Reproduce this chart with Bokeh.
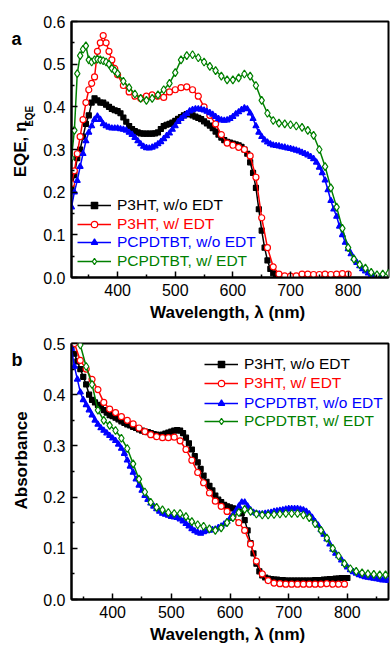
import math
from bokeh.plotting import figure
from bokeh.layouts import column, row
from bokeh.models import Legend, LegendItem, Label, FixedTicker, PrintfTickFormatter, Range1d
from bokeh.embed import file_html
from bokeh.resources import INLINE

FONT = "Liberation Sans"

# ---------------- data ----------------
names = ["P3HT, w/o EDT", "P3HT, w/ EDT", "PCPDTBT, w/o EDT", "PCPDTBT, w/ EDT"]
colors = ["#000000", "#ff0000", "#0000ff", "#008000"]
markers = ["square", "circle", "triangle", "diamond"]
filled = [True, False, True, False]
msizes = [5, 6, 6, 8]

x_ticks = [400, 500, 600, 700, 800]
x_minor = [350, 450, 550, 650, 750, 850]
eqe_ticks = [0.0, 0.1, 0.2, 0.3, 0.4, 0.5, 0.6]
eqe_minor = [0.05, 0.15, 0.25, 0.35, 0.45, 0.55]
abs_ticks = [0.0, 0.1, 0.2, 0.3, 0.4, 0.5]
abs_minor = [0.05, 0.15, 0.25, 0.35, 0.45]

# Panel a: EQE
eqe_p3ht_wo_x = list(range(320, 685, 5))
eqe_p3ht_wo = [
    0.21, 0.24, 0.28, 0.30, 0.33, 0.36, 0.38, 0.41, 0.42, 0.415,
    0.41, 0.41, 0.405, 0.40, 0.395, 0.392, 0.39, 0.385, 0.375, 0.365,
    0.355, 0.348, 0.343, 0.34, 0.338, 0.337, 0.337, 0.337, 0.337, 0.338,
    0.34, 0.348, 0.355, 0.358, 0.36, 0.363, 0.367, 0.372, 0.376, 0.38,
    0.383, 0.383, 0.38, 0.377, 0.374, 0.371, 0.366, 0.361, 0.356, 0.35,
    0.342, 0.335, 0.328, 0.322, 0.318, 0.316, 0.314, 0.312, 0.31, 0.306,
    0.30, 0.29, 0.27, 0.245, 0.21, 0.16, 0.11, 0.07, 0.04, 0.02,
    0.01, 0.004, 0.0]

eqe_p3ht_w_x = list(range(320, 400, 5)) + list(range(400, 810, 10))
eqe_p3ht_w = [
    0.22, 0.25, 0.29, 0.33, 0.37, 0.41, 0.44, 0.455, 0.47, 0.53,
    0.55, 0.567, 0.55, 0.53, 0.51, 0.49,
    0.475, 0.45, 0.435, 0.425, 0.42, 0.425, 0.428, 0.425, 0.422, 0.435,
    0.44, 0.445, 0.447, 0.44, 0.425, 0.40, 0.38, 0.36, 0.335, 0.315,
    0.31, 0.305, 0.30, 0.285, 0.235, 0.14, 0.07, 0.025, 0.008, 0.004,
    0.003, 0.004, 0.008, 0.008, 0.007, 0.007, 0.008, 0.007, 0.008, 0.009,
    0.008]

eqe_pcp_wo_x = list(range(320, 865, 5))
eqe_pcp_wo = [
    0.165, 0.20, 0.227, 0.26, 0.29, 0.32, 0.34, 0.355, 0.37, 0.378,
    0.37, 0.36, 0.355, 0.352, 0.35, 0.35, 0.35, 0.348, 0.347, 0.345,
    0.34, 0.335, 0.328, 0.32, 0.313, 0.307, 0.304, 0.303, 0.305, 0.308,
    0.313, 0.318, 0.325, 0.332, 0.338, 0.347, 0.355, 0.365, 0.372, 0.378,
    0.384, 0.39, 0.393, 0.395, 0.395, 0.394, 0.392, 0.389, 0.386, 0.382,
    0.377, 0.372, 0.369, 0.368, 0.369, 0.372, 0.377, 0.383, 0.388, 0.393,
    0.397, 0.395, 0.385, 0.372, 0.355, 0.34, 0.33, 0.322, 0.317, 0.313,
    0.31, 0.309, 0.308, 0.306, 0.305, 0.303, 0.302, 0.30, 0.298, 0.296,
    0.293, 0.29, 0.287, 0.283, 0.278, 0.27, 0.258, 0.245, 0.228, 0.205,
    0.18, 0.16, 0.143, 0.12, 0.10, 0.082, 0.067, 0.055, 0.045, 0.035,
    0.027, 0.02, 0.015, 0.01, 0.006, 0.003, 0.001, 0.0, 0.0]

eqe_pcp_w_x = list(range(320, 400, 5)) + list(range(400, 880, 10))
eqe_pcp_w = [
    0.28, 0.345, 0.478, 0.52, 0.535, 0.543, 0.51, 0.505, 0.51, 0.512,
    0.51, 0.508, 0.505, 0.50, 0.49, 0.485,
    0.478, 0.46, 0.445, 0.43, 0.42, 0.415, 0.42, 0.428, 0.44, 0.455,
    0.48, 0.51, 0.52, 0.522, 0.515, 0.505, 0.495, 0.485, 0.472, 0.463,
    0.463, 0.468, 0.477, 0.472, 0.45, 0.415, 0.385, 0.368, 0.362, 0.36,
    0.358, 0.355, 0.352, 0.345, 0.333, 0.30, 0.26, 0.21, 0.165, 0.115,
    0.07, 0.043, 0.03, 0.022, 0.012, 0.006, 0.008, 0.01]

# Panel b: absorbance
abs_p3ht_wo_x = list(range(330, 805, 5))
abs_p3ht_wo = [
    0.495, 0.48, 0.465, 0.45, 0.435, 0.42, 0.40, 0.39, 0.385, 0.38,
    0.375, 0.37, 0.365, 0.36, 0.358, 0.355, 0.352, 0.348, 0.345, 0.342,
    0.34, 0.337, 0.335, 0.332, 0.33, 0.328, 0.327, 0.325, 0.323, 0.322,
    0.321, 0.322, 0.324, 0.326, 0.328, 0.33, 0.331, 0.33, 0.325, 0.316,
    0.305, 0.293, 0.28, 0.268, 0.255, 0.242, 0.23, 0.222, 0.213, 0.203,
    0.195, 0.19, 0.185, 0.182, 0.18, 0.178, 0.175, 0.172, 0.168, 0.155,
    0.135, 0.11, 0.09, 0.07, 0.055, 0.047, 0.043, 0.041, 0.04, 0.039,
    0.039, 0.038, 0.038, 0.037, 0.037, 0.037, 0.037, 0.037, 0.037, 0.037,
    0.037, 0.037, 0.037, 0.038, 0.038, 0.038, 0.039, 0.039, 0.04, 0.04,
    0.041, 0.041, 0.042, 0.042, 0.042]

abs_p3ht_w_x = list(range(335, 805, 10))
abs_p3ht_w = [
    0.50, 0.467, 0.45, 0.43, 0.41, 0.385, 0.372, 0.365, 0.357, 0.35,
    0.343, 0.335, 0.328, 0.322, 0.318, 0.316, 0.316, 0.317, 0.31, 0.293,
    0.272, 0.248, 0.228, 0.208, 0.192, 0.182, 0.172, 0.162, 0.15, 0.135,
    0.108, 0.075, 0.05, 0.037, 0.032, 0.031, 0.03, 0.03, 0.03, 0.03,
    0.03, 0.03, 0.03, 0.031, 0.03, 0.03, 0.03]

abs_pcp_wo_x = list(range(330, 875, 5))
abs_pcp_wo = [
    0.49, 0.455, 0.43, 0.405, 0.39, 0.38, 0.37, 0.36, 0.35, 0.342,
    0.335, 0.33, 0.325, 0.32, 0.315, 0.31, 0.303, 0.295, 0.285, 0.272,
    0.26, 0.248, 0.235, 0.223, 0.213, 0.203, 0.195, 0.188, 0.182, 0.177,
    0.172, 0.168, 0.166, 0.164, 0.162, 0.161, 0.16, 0.157, 0.153, 0.148,
    0.143, 0.138, 0.134, 0.131, 0.129, 0.132, 0.134, 0.135, 0.136, 0.137,
    0.14, 0.143, 0.147, 0.152, 0.158, 0.165, 0.173, 0.182, 0.19, 0.19,
    0.182, 0.175, 0.17, 0.168, 0.167, 0.167, 0.168, 0.169, 0.17, 0.172,
    0.173, 0.174, 0.175, 0.176, 0.177, 0.177, 0.177, 0.177, 0.176, 0.175,
    0.172, 0.167, 0.16, 0.152, 0.145, 0.136, 0.127, 0.118, 0.108, 0.098,
    0.09, 0.085, 0.077, 0.07, 0.063, 0.058, 0.054, 0.051, 0.048, 0.046,
    0.044, 0.043, 0.042, 0.041, 0.04, 0.039, 0.038, 0.038, 0.037]

abs_pcp_w_x = list(range(345, 875, 10))
abs_pcp_w = [
    0.497, 0.455, 0.42, 0.37, 0.35, 0.34, 0.33, 0.315, 0.295, 0.265,
    0.235, 0.21, 0.19, 0.18, 0.175, 0.17, 0.168, 0.168, 0.162, 0.152,
    0.146, 0.143, 0.138, 0.135, 0.14, 0.15, 0.16, 0.17, 0.176, 0.172,
    0.167, 0.165, 0.165, 0.166, 0.167, 0.168, 0.168, 0.168, 0.165, 0.16,
    0.148, 0.135, 0.12, 0.10, 0.085, 0.07, 0.06, 0.055, 0.052, 0.05,
    0.049, 0.048, 0.048]

eqe_series = [(eqe_p3ht_wo_x, eqe_p3ht_wo), (eqe_p3ht_w_x, eqe_p3ht_w),
              (eqe_pcp_wo_x, eqe_pcp_wo), (eqe_pcp_w_x, eqe_pcp_w)]
abs_series = [(abs_p3ht_wo_x, abs_p3ht_wo), (abs_p3ht_w_x, abs_p3ht_w),
              (abs_pcp_wo_x, abs_pcp_wo), (abs_pcp_w_x, abs_pcp_w)]

# ---------------- layout constants ----------------
SIDE_W = 40            # narrow strip holding the panel letter and y label
W = 390 - SIDE_W
FRAME_L, FRAME_R = 70 - SIDE_W, 2
FRAME_H = 256
A_TOP, A_BOT = 21, 47
B_TOP, B_BOT = 19, 47
LABEL_SIZE = "17px"


def make_fig(xr, yr, top, bot, yt, ym):
    p = figure(width=W, height=top + FRAME_H + bot, x_range=Range1d(*xr), y_range=Range1d(*yr),
               output_backend="svg", toolbar_location=None,
               min_border_left=FRAME_L, min_border_right=FRAME_R,
               min_border_top=top, min_border_bottom=bot)
    p.xgrid.visible = False
    p.ygrid.visible = False
    p.outline_line_color = "black"
    p.outline_line_width = 2
    p.outline_line_alpha = 1.0
    p.background_fill_color = "white"
    p.border_fill_color = "white"
    for ax in (p.xaxis[0], p.yaxis[0]):
        ax.axis_line_width = 2
        ax.axis_line_color = "black"
        ax.major_tick_in = 6
        ax.major_tick_out = 0
        ax.minor_tick_in = 3
        ax.minor_tick_out = 0
        ax.major_tick_line_width = 1.5
        ax.minor_tick_line_width = 1.5
        ax.major_label_text_font = FONT
        ax.major_label_text_font_size = "16px"
        ax.major_label_text_color = "black"
        ax.axis_label_text_font = FONT
        ax.axis_label_text_font_size = LABEL_SIZE
        ax.axis_label_text_font_style = "bold"
        ax.axis_label_text_color = "black"
    p.xaxis.ticker = FixedTicker(ticks=x_ticks, minor_ticks=x_minor)
    p.yaxis.ticker = FixedTicker(ticks=yt, minor_ticks=ym)
    p.yaxis.formatter = PrintfTickFormatter(format="%.1f")
    p.xaxis.major_label_standoff = 6
    p.yaxis.major_label_standoff = 6
    p.xaxis.axis_label = "Wavelength, \u03bb  (nm)"
    p.xaxis.axis_label_standoff = 4
    return p


def draw(p, series, leg_x, leg_ys):
    for (xs, ys), name, c, m, f, s, ly in zip(series, names, colors, markers, filled, msizes, leg_ys):
        rl = p.line(xs, ys, line_color=c, line_width=1.5)
        rs = p.scatter(xs, ys, marker=m, size=s, line_color=c,
                       fill_color=c if f else "white", line_width=1.2)
        leg = Legend(items=[LegendItem(label=name, renderers=[rl, rs])],
                     location=(leg_x, ly), label_text_color=c,
                     label_text_font=FONT, label_text_font_size="15.5px",
                     glyph_width=34, glyph_height=16, label_height=16,
                     label_standoff=6, padding=0, margin=0, spacing=0,
                     border_line_alpha=0, background_fill_alpha=0)
        p.add_layout(leg)


def side_fig(h):
    # a blank strip whose data units are pixels measured from its top-left corner
    s = figure(width=SIDE_W, height=h, x_range=Range1d(0, SIDE_W), y_range=Range1d(h, 0),
               output_backend="svg", toolbar_location=None,
               min_border=0, min_border_left=0, min_border_right=0,
               min_border_top=0, min_border_bottom=0)
    s.axis.visible = False
    s.grid.visible = False
    s.outline_line_alpha = 0
    s.border_fill_color = "white"
    s.background_fill_color = "white"
    return s


def lab(p, text, x, y, size, angle=0.0, align="left"):
    p.add_layout(Label(x=x, y=y, text=text, angle=angle, text_font=FONT,
                       text_font_size=size, text_font_style="bold", text_color="black",
                       text_align=align, text_baseline="middle"))


# ---------------- panel a ----------------
pa = make_fig((320, 870), (0, 0.6), A_TOP, A_BOT, eqe_ticks, eqe_minor)
draw(pa, eqe_series, 6, [63, 44, 26, 7])
ha = A_TOP + FRAME_H + A_BOT
sa = side_fig(ha)
lab(sa, "a", 11, 22, "18px")
lab(sa, "EQE, \u03b7", 20, 162, LABEL_SIZE, angle=math.pi / 2, align="center")
lab(sa, "EQE", 29, 120, "10px", angle=math.pi / 2, align="center")

# ---------------- panel b ----------------
pb = make_fig((330, 870), (0, 0.5), B_TOP, B_BOT, abs_ticks, abs_minor)
draw(pb, abs_series, 133, [226, 207, 187, 169])
hb = B_TOP + FRAME_H + B_BOT
sb = side_fig(hb)
lab(sb, "b", 11, 21, "18px")
lab(sb, "Absorbance", 21, B_TOP + FRAME_H / 2, LABEL_SIZE, angle=math.pi / 2, align="center")

layout = column(row(sa, pa), row(sb, pb))
open("out.html", "w").write(file_html(layout, INLINE))
